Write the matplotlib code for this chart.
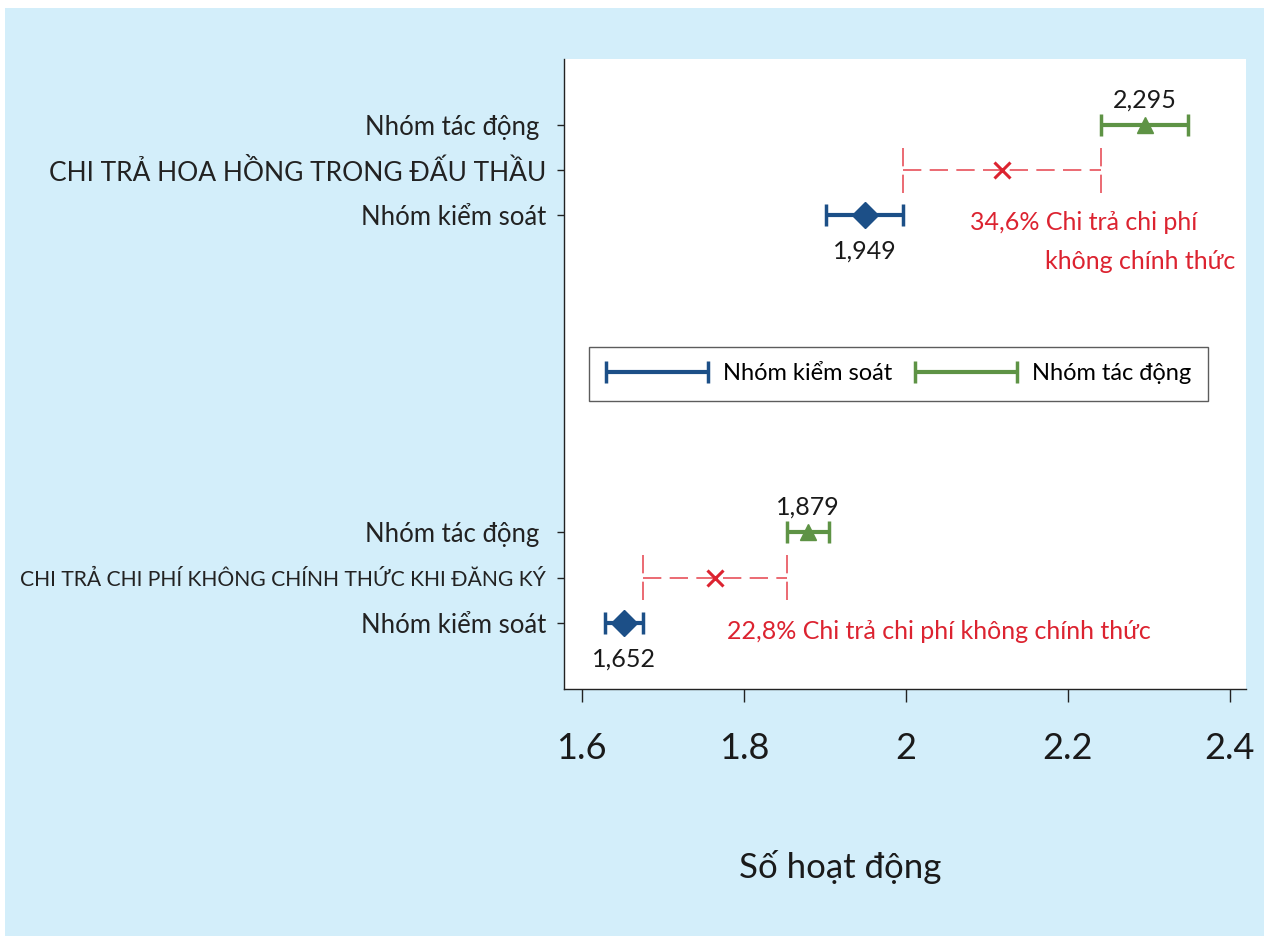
import matplotlib.pyplot as plt
from matplotlib.patches import Rectangle
from matplotlib.container import ErrorbarContainer
from matplotlib.legend_handler import HandlerErrorbar

plt.rcParams['font.family'] = ['Lato', 'DejaVu Sans']

# Số liệu
groups = ["CHI TRẢ HOA HỒNG TRONG ĐẤU THẦU",
          "CHI TRẢ CHI PHÍ KHÔNG CHÍNH THỨC KHI ĐĂNG KÝ"]
group_base = [9, 0]
control_mean = [1.949, 1.652]
control_err = [0.047, 0.023]
treat_mean = [2.295, 1.879]
treat_err = [0.054, 0.026]
pct_lines = [["34,6% Chi trả chi phí", "không chính thức"],
             ["22,8% Chi trả chi phí không chính thức"]]

BLUE = '#1c4f87'
GREEN = '#5e9345'
RED = '#dc2330'
RED_LINE = '#e8505a'
BG = '#d3eefa'

fig = plt.figure(figsize=(12.64, 9.36), dpi=100)
fig.patch.set_facecolor('white')
fig.add_artist(Rectangle((5 / 1264, 0), 1 - 5 / 1264, 1 - 8 / 936,
                         transform=fig.transFigure, facecolor=BG,
                         edgecolor='none', zorder=-10))

ax = fig.add_axes([564 / 1264, 1 - 689 / 936, 682 / 1264, 630 / 936])
ax.set_facecolor('white')

for i in range(len(groups)):
    b = group_base[i]
    y_ctrl, y_grp, y_trt = b, b + 1, b + 2

    ax.errorbar(control_mean[i], y_ctrl, xerr=control_err[i], fmt='none',
                ecolor=BLUE, elinewidth=3, capsize=8, capthick=2.5,
                label='Nhóm kiểm soát' if i == 0 else None)
    ax.errorbar(treat_mean[i], y_trt, xerr=treat_err[i], fmt='none',
                ecolor=GREEN, elinewidth=3, capsize=8, capthick=2.5,
                label='Nhóm tác động' if i == 0 else None)
    ax.plot(control_mean[i], y_ctrl, marker='D', color=BLUE, markersize=13, zorder=5)
    ax.plot(treat_mean[i], y_trt, marker='^', color=GREEN, markersize=12, zorder=5)

    # khoảng cách giữa hai nhóm
    lo = control_mean[i] + control_err[i]
    hi = treat_mean[i] - treat_err[i]
    ax.plot([lo, hi], [y_grp, y_grp], color=RED_LINE, lw=1.2, ls=(0, (11, 5)))
    ax.vlines([lo, hi], y_grp - 0.5, y_grp + 0.5, color=RED_LINE, lw=1.2,
              linestyles=[(0, (11, 5))])
    ax.plot((lo + hi) / 2, y_grp, marker='x', color=RED, markersize=11,
            markeredgewidth=2.2, zorder=5)

    ax.text(control_mean[i], y_ctrl - 0.8, f"{control_mean[i]:.3f}".replace('.', ','),
            ha='center', va='center', fontsize=18, color='#1a1a1a')
    ax.text(treat_mean[i], y_trt + 0.55, f"{treat_mean[i]:.3f}".replace('.', ','),
            ha='center', va='center', fontsize=18, color='#1a1a1a')

# chú thích phần trăm
ax.text(2.079, 8.85, pct_lines[0][0], ha='left', va='center', fontsize=18, color=RED)
ax.text(2.172, 7.97, pct_lines[0][1], ha='left', va='center', fontsize=18, color=RED)
ax.text(1.779, -0.18, pct_lines[1][0], ha='left', va='center', fontsize=18, color=RED)

# trục y
yticks = []
ylabels = []
for i, g in enumerate(groups):
    b = group_base[i]
    yticks += [b, b + 1, b + 2]
    ylabels += ['Nhóm kiểm soát', g, 'Nhóm tác động ']
ax.set_yticks(yticks)
ax.set_yticklabels(ylabels)
header_sizes = [19, 15.2]
for k, lab in enumerate(ax.get_yticklabels()):
    lab.set_fontsize(header_sizes[k // 3] if k % 3 == 1 else 18.5)
    lab.set_color('#1a1a1a')

ax.set_xlim(1.578, 2.42)
ax.set_ylim(-1.46, 12.45)
ax.set_xticks([1.6, 1.8, 2.0, 2.2, 2.4])
ax.set_xticklabels(['1.6', '1.8', '2', '2.2', '2.4'])
ax.tick_params(axis='x', direction='out', length=9, width=1, labelsize=26,
               pad=22, colors='#222222', labelcolor='#1a1a1a')
ax.tick_params(axis='y', direction='out', length=5, width=1, pad=8,
               colors='#222222')
ax.set_xlabel('Số hoạt động', fontsize=25, color='#1a1a1a')
ax.xaxis.set_label_coords(0.405, -0.256)

for s in ['top', 'right']:
    ax.spines[s].set_visible(False)
for s in ['left', 'bottom']:
    ax.spines[s].set_color('#222222')
    ax.spines[s].set_linewidth(1)

leg = ax.legend(loc='center', bbox_to_anchor=(0.49, 0.5), ncol=2, fontsize=17,
                frameon=True, fancybox=False, edgecolor='#333333',
                handlelength=4.4, columnspacing=0.9, handletextpad=0.6,
                borderpad=0.7,
                handler_map={ErrorbarContainer: HandlerErrorbar(xerr_size=2.15)})
leg.get_frame().set_linewidth(1)

fig.savefig('out.png', dpi=100, facecolor=fig.get_facecolor())
